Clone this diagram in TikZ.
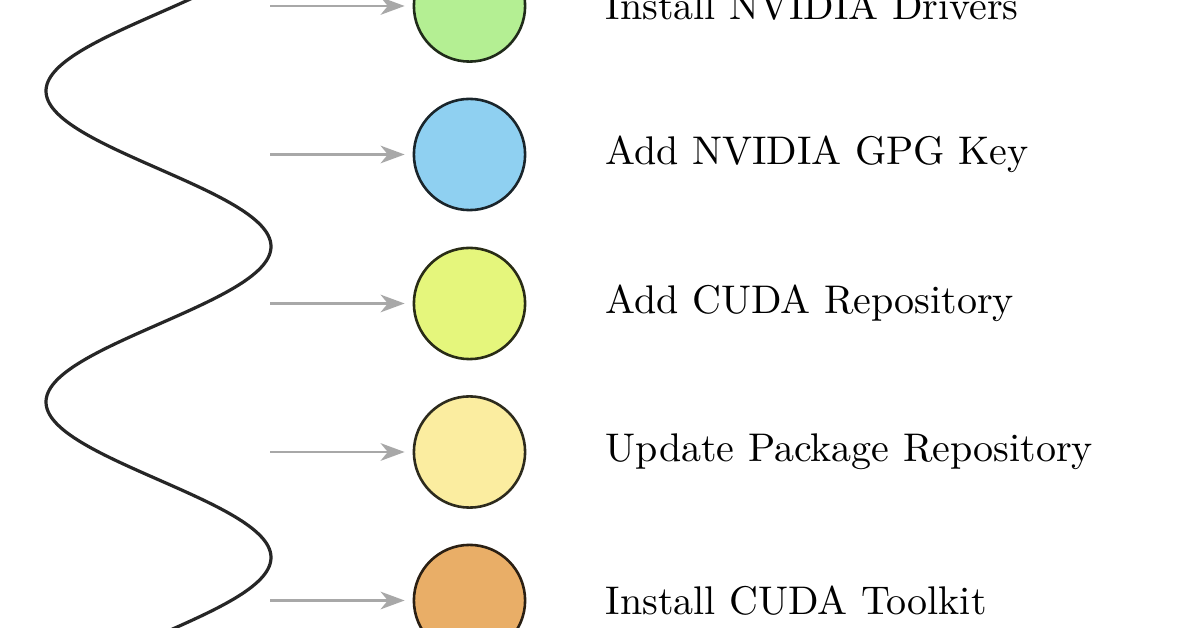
\documentclass[tikz,border=0pt]{standalone}
\usetikzlibrary{arrows.meta}
\definecolor{cone}{HTML}{B4EF93}
\definecolor{ctwo}{HTML}{8FD0F1}
\definecolor{cthree}{HTML}{E5F67C}
\definecolor{cfour}{HTML}{FBEDA0}
\definecolor{cfive}{HTML}{E9AE67}
\definecolor{arrowgray}{HTML}{A8A8A8}
\begin{document}
\begin{tikzpicture}[x=0.25pt,y=-0.25pt,
  stepdot/.style={circle,minimum size=27.8pt,inner sep=0pt,line width=0.65pt},
  steplabel/.style={anchor=west,inner sep=0pt,font=\normalsize},
  feed/.style={draw=arrowgray,line width=0.6pt,-{Stealth[length=6pt,width=4.4pt,inset=1.8pt]},shorten >=2pt},
  wave/.style={draw=black!85,line width=0.8pt}]
\useasboundingbox (0,0) rectangle (1196,628);
\fill[white] (0,0) rectangle (1196,628);
% wave
\draw[wave] plot[domain=-8:636,samples=260,smooth,variable=\t]
  ({158.5-112.5*cos(((\t-91)/155.5)*180)},{\t});
% circles
\node[stepdot,fill=cone,draw=cone!18!black]   (c1) at (469.5,6)   {};
\node[stepdot,fill=ctwo,draw=ctwo!18!black]   (c2) at (469.5,154.5) {};
\node[stepdot,fill=cthree,draw=cthree!18!black] (c3) at (469.5,303.5) {};
\node[stepdot,fill=cfour,draw=cfour!18!black]  (c4) at (469.5,452) {};
\node[stepdot,fill=cfive,draw=cfive!18!black]  (c5) at (469.5,600.5) {};
% arrow starts
\coordinate (a1) at (270,6);
\coordinate (a2) at (270,154.5);
\coordinate (a3) at (270,303.5);
\coordinate (a4) at (270,452);
\coordinate (a5) at (270,600.5);
\foreach \i in {1,...,5}{\draw[feed] (a\i) -- (c\i);}
% labels
\node[steplabel] (t1) at (605,6)     {Install NVIDIA Drivers};
\node[steplabel] (t2) at (605,154.5) {Add NVIDIA GPG Key};
\node[steplabel] (t3) at (605,303.5) {Add CUDA Repository};
\node[steplabel] (t4) at (605,452)   {Update Package Repository};
\node[steplabel] (t5) at (605,600.5) {Install CUDA Toolkit};
\end{tikzpicture}
\end{document}
